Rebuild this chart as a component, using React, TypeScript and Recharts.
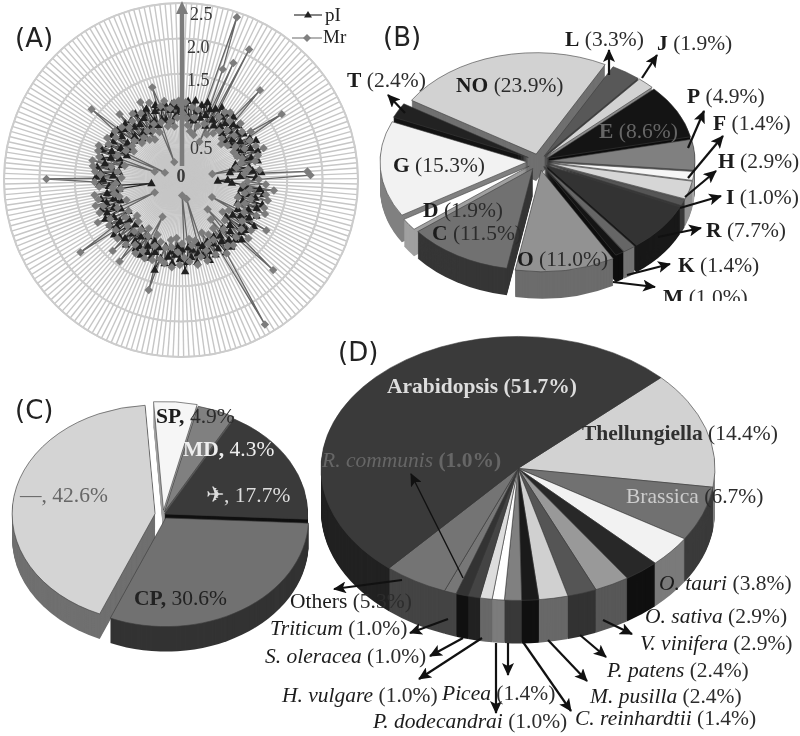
import React from "react";
import {
  Pie,
  PieChart,
  PolarAngleAxis,
  PolarGrid,
  PolarRadiusAxis,
  Radar,
  RadarChart,
  Sector,
} from "recharts";

const SERIF = "'Liberation Serif', serif";
const SANS = "'DejaVu Sans', sans-serif";

// panel A: one value per protein, clockwise from the top
const pIValues = [
  1.02, 1.08, 0.94, 1.12, 0.88, 1.04, 1.14, 0.86, 1.0, 1.1,
  0.92, 1.16, 0.98, 1.08, 0.84, 1.12, 0.96, 1.18, 0.9, 1.06,
  1.14, 0.94, 1.02, 1.16, 0.88, 1.08, 0.98, 1.12, 0.84, 1.04,
  0.92, 1.1, 0.86, 1.0, 1.14, 0.9, 1.2, 0.96, 1.08, 0.88,
  1.16, 0.94, 1.04, 0.8, 1.12, 0.76, 0.98, 0.7, 1.02, 1.14,
  0.84, 1.06, 0.66, 0.52, 0.72, 0.92, 1.12, 0.86, 1.18, 0.96,
  1.08, 0.84, 1.2, 0.92, 1.14, 0.86, 1.04, 1.18, 0.9, 1.1,
  0.98, 1.22, 0.88, 1.06, 1.16, 0.82, 1.12, 0.94, 1.2, 1.0,
  1.14, 0.9, 1.08, 1.18, 0.96, 1.04, 1.2, 0.92, 1.1, 1.0,
  1.16, 0.94, 1.08, 1.2, 0.98, 1.12, 0.92, 1.06, 1.18, 1.0,
  1.1, 0.96, 1.16, 1.29, 0.98, 1.12, 0.94, 1.06, 1.18, 1.02,
  1.1, 1.2, 0.96, 1.14, 1.32, 1.0, 1.08, 1.18, 0.94, 1.12,
  1.04, 1.2, 0.92, 1.1, 1.16, 0.98, 1.08, 0.88, 1.2, 1.02,
  1.14, 0.9, 1.18, 1.0, 1.22, 0.92, 1.12, 1.04, 1.18, 0.86,
  1.08, 1.2, 0.94, 1.14, 1.02, 1.2, 0.9, 1.1, 0.98, 1.16,
  0.92, 1.06, 0.88, 0.42, 1.02, 1.16, 0.9, 1.1, 1.2, 0.96,
  1.14, 0.88, 1.2, 1.0, 1.1, 0.86, 1.16, 1.04, 0.92, 1.2,
  1.06, 0.84, 1.14, 0.96, 1.1, 0.82, 1.16, 0.92, 1.04, 1.14,
  0.86, 1.08, 0.9, 1.12, 0.8, 1.0, 1.1, 0.86, 0.98, 1.14,
  0.82, 1.02, 1.08, 0.88, 1.12, 0.92, 0.84, 1.04, 1.12, 0.9,
  1.06, 0.88, 1.1, 0.84, 1.0, 1.08, 0.9, 1.04, 0.96,
];

const mrValues = [
  1.06, 0.94, 1.1, 0.88, 0.78, 1.04, 0.7, 0.9, 1.02, 0.66,
  0.8, 2.43, 1.67, 0.86, 1.81, 0.6, 2.08, 0.74, 1.04, 1.14,
  0.8, 1.18, 0.88, 1.08, 1.69, 0.96, 0.82, 1.16, 0.76, 0.98,
  1.1, 0.82, 1.2, 1.7, 0.9, 1.12, 0.84, 1.0, 1.16, 0.86,
  1.25, 0.92, 1.14, 0.88, 1.08, 0.8, 0.45, 0.96, 1.12, 0.9,
  1.79, 1.83, 1.1, 0.94, 1.2, 0.88, 1.32, 0.98, 1.22, 0.92,
  1.26, 1.02, 0.84, 1.24, 0.96, 1.28, 0.88, 1.18, 1.0, 0.5,
  1.4, 0.8, 1.04, 1.22, 0.74, 1.1, 1.26, 0.84, 1.82, 1.12,
  0.56, 0.92, 1.18, 0.7, 1.14, 0.82, 1.22, 2.36, 0.96, 0.86,
  1.16, 0.98, 0.8, 1.06, 1.2, 0.28, 1.12, 0.88, 1.22, 0.94,
  0.84, 1.16, 0.22, 1.1, 0.9, 1.2, 1.02, 0.82, 1.24, 0.96,
  0.86, 1.2, 0.98, 1.16, 1.62, 0.92, 1.2, 1.0, 0.84, 1.22,
  0.58, 1.14, 0.92, 1.22, 0.82, 1.12, 1.44, 0.9, 1.2, 0.98,
  1.39, 0.84, 1.22, 1.0, 0.8, 1.16, 1.75, 0.94, 1.2, 0.86,
  1.14, 1.32, 0.41, 0.98, 1.24, 0.82, 1.16, 1.26, 0.9, 1.2,
  0.96, 1.24, 0.86, 0.98, 1.16, 0.92, 1.22, 1.9, 0.84, 1.14,
  1.22, 0.9, 1.26, 1.0, 1.28, 0.82, 1.2, 0.39, 1.24, 0.96,
  1.26, 0.25, 1.14, 0.88, 1.2, 0.78, 1.1, 0.84, 1.16, 1.61,
  0.86, 1.12, 0.76, 1.04, 1.27, 0.8, 1.08, 0.72, 1.16, 0.84,
  0.68, 1.1, 0.8, 1.24, 0.88, 0.74, 1.18, 0.27, 0.86, 1.37,
  1.08, 0.78, 1.14, 0.84, 1.02, 0.76, 1.1, 0.88, 1.12,
];

const radarData = pIValues.map((pI, i) => ({ id: i, pI, Mr: mrValues[i] }));

// panel B
const bNames = ["L", "J", "E", "P", "F", "H", "I", "R", "K", "M", "O", "C", "D", "G", "T", "NO"];
const bValues = [3.3, 1.9, 8.6, 4.9, 1.4, 2.9, 1.0, 7.7, 1.4, 1.0, 11.0, 11.5, 1.9, 15.3, 2.4, 23.9];
const bTop = ["#585858", "#d2d2d2", "#141414", "#808080", "#f6f6f6", "#d6d6d6", "#555555", "#333333", "#666666", "#141414", "#929292", "#717171", "#ffffff", "#f2f2f2", "#222222", "#d2d2d2"];
const bWall = ["#3c3c3c", "#8c8c8c", "#0c0c0c", "#585858", "#a8a8a8", "#909090", "#383838", "#181818", "#747474", "#0e0e0e", "#6c6c6c", "#363636", "#a0a0a0", "#808080", "#141414", "#707070"];
const bExplode = [9, 9, 9, 9, 9, 9, 9, 9, 9, 9, 13, 12, 12, 12, 12, 11];

// panel C
const cNames = ["SP", "MD", "\u2708", "CP", "\u2014"];
const cValues = [4.9, 4.3, 17.7, 30.6, 42.6];
const cTop = ["#f6f6f6", "#808080", "#3a3a3a", "#717171", "#d4d4d4"];
const cWall = ["#a0a0a0", "#5a5a5a", "#101010", "#333333", "#707070"];
const cExplode = [6, 4, 2, 5, 8];

// panel D
const dNames = ["Thellungiella", "Brassica", "O. tauri", "O. sativa", "V. vinifera", "P. patens", "M. pusilla", "C. reinhardtii", "Picea", "P. dodecandrai", "H. vulgare", "S. oleracea", "Triticum", "R. communis", "Others", "Arabidopsis"];
const dValues = [14.4, 6.7, 3.8, 2.9, 2.9, 2.4, 2.4, 1.4, 1.4, 1.0, 1.0, 1.0, 1.0, 1.0, 5.3, 51.7];
const dTop = ["#d2d2d2", "#717171", "#f2f2f2", "#282828", "#999999", "#555555", "#d0d0d0", "#1a1a1a", "#808080", "#ffffff", "#dddddd", "#444444", "#333333", "#777777", "#747474", "#3a3a3a"];
const dWall = ["#808080", "#3a3a3a", "#7a7a7a", "#101010", "#585858", "#333333", "#686868", "#101010", "#383838", "#7c7c7c", "#686868", "#222222", "#111111", "#444444", "#444444", "#222222"];

const radiusLabelShift: Record<string, [number, number]> = {
  "0": [0, 2],
  "0.5": [9, 9],
  "1.0": [8, 6],
  "1.5": [6, 12],
  "2.0": [6, 15],
  "2.5": [9, 17],
};

const RadiusTick = (props: any) => {
  const text = props.payload.value === 0 ? "0" : Number(props.payload.value).toFixed(1);
  const [dx, dy] = radiusLabelShift[text] ?? [0, 0];
  return (
    <text
      x={props.x + dx}
      y={props.y + dy}
      textAnchor={text === "0" ? "middle" : "start"}
      fontFamily={SERIF}
      fontSize={18}
      fontWeight={text === "0" ? "bold" : "normal"}
      fill="#3a3a3a"
    >
      {text}
    </text>
  );
};

const TriangleDot = (props: any) => (
  <path key={props.key} d={`M${props.cx} ${props.cy - 4.5}l4.2 7.5h-8.4z`} fill="#202020" />
);

const DiamondDot = (props: any) => (
  <path key={props.key} d={`M${props.cx} ${props.cy - 4.2}l4.2 4.2l-4.2 4.2l-4.2 -4.2z`} fill="#7c7c7c" />
);

const ExplodedSector = (props: any) => {
  const rad = (props.midAngle * Math.PI) / 180;
  const push = props.payload?.explode ?? props.explode ?? 0;
  return <Sector {...props} cx={props.cx + push * Math.cos(rad)} cy={props.cy - push * Math.sin(rad)} />;
};

interface Pie3DProps {
  names: string[];
  values: number[];
  top: string[];
  wall: string[];
  explode?: number[];
  centerX: number;
  centerY: number;
  radius: number;
  squash: number;
  depth: number;
  firstAngle: number; // degrees clockwise from north
}

function Pie3D({ names, values, top, wall, explode, centerX, centerY, radius, squash, depth, firstAngle }: Pie3DProps) {
  const pad = 24;
  const width = radius * 2 + pad * 2;
  const height = radius * 2 + pad * 2 + depth / squash;
  const cx = radius + pad;
  const cy = radius + pad;
  const rows = (fills: string[]) =>
    names.map((name, i) => ({ name, value: values[i], fill: fills[i], explode: explode ? explode[i] : 0 }));
  const wallRows = rows(wall);
  const topRows = rows(top);
  const layers: number[] = [];
  for (let d = depth; d > 0; d--) layers.push(d);
  const startAngle = 90 - firstAngle;
  return (
    <div
      style={{
        position: "absolute",
        left: centerX - cx,
        top: centerY - cy * squash,
        transform: `scaleY(${squash})`,
        transformOrigin: "0 0",
      }}
    >
      <PieChart width={width} height={height}>
        {layers.map((d) => (
          <Pie
            key={d}
            data={wallRows}
            dataKey="value"
            cx={cx}
            cy={cy + d / squash}
            outerRadius={radius}
            startAngle={startAngle}
            endAngle={startAngle - 360}
            stroke="none"
            shape={ExplodedSector}
            isAnimationActive={false}
          />
        ))}
        <Pie
          data={topRows}
          dataKey="value"
          cx={cx}
          cy={cy}
          outerRadius={radius}
          startAngle={startAngle}
          endAngle={startAngle - 360}
          stroke="#3c3c3c"
          strokeWidth={0.7}
          shape={ExplodedSector}
          isAnimationActive={false}
        />
      </PieChart>
    </div>
  );
}

interface Note {
  name: string;
  x: number;
  y: number;
  head?: "bold" | "italic" | "normal";
  headFill?: string;
  restFill?: string;
  boldRest?: boolean;
}

const pct = (names: string[], values: number[], name: string) => values[names.indexOf(name)].toFixed(1);

const bNotes: Note[] = [
  { name: "L", x: 565, y: 46 },
  { name: "J", x: 657, y: 50 },
  { name: "T", x: 347, y: 87 },
  { name: "NO", x: 456, y: 92 },
  { name: "E", x: 599, y: 138, headFill: "#666666", restFill: "#666666" },
  { name: "P", x: 687, y: 103 },
  { name: "F", x: 713, y: 130 },
  { name: "H", x: 718, y: 168 },
  { name: "I", x: 726, y: 204 },
  { name: "R", x: 706, y: 237 },
  { name: "K", x: 678, y: 272 },
  { name: "G", x: 393, y: 172 },
  { name: "D", x: 423, y: 217 },
  { name: "C", x: 432, y: 240 },
  { name: "O", x: 517, y: 266 },
];

const dNotes: Note[] = [
  { name: "Arabidopsis", x: 387, y: 393, head: "bold", headFill: "#dddddd", restFill: "#dddddd", boldRest: true },
  { name: "Thellungiella", x: 582, y: 440, head: "bold", headFill: "#303030" },
  { name: "Brassica", x: 626, y: 503, head: "normal", headFill: "#cccccc" },
  { name: "R. communis", x: 322, y: 467, head: "italic", headFill: "#666666", restFill: "#666666", boldRest: true },
  { name: "O. tauri", x: 659, y: 590, head: "italic" },
  { name: "O. sativa", x: 645, y: 623, head: "italic" },
  { name: "V. vinifera", x: 640, y: 650, head: "italic" },
  { name: "P. patens", x: 607, y: 677, head: "italic" },
  { name: "M. pusilla", x: 590, y: 703, head: "italic" },
  { name: "C. reinhardtii", x: 575, y: 725, head: "italic" },
  { name: "P. dodecandrai", x: 373, y: 728, head: "italic" },
  { name: "Picea", x: 442, y: 700, head: "italic" },
  { name: "H. vulgare", x: 282, y: 702, head: "italic" },
  { name: "S. oleracea", x: 265, y: 663, head: "italic" },
  { name: "Triticum", x: 270, y: 635, head: "italic" },
  { name: "Others", x: 290, y: 608, head: "normal" },
];

const cNotes: Note[] = [
  { name: "SP", x: 156, y: 423, head: "bold" },
  { name: "MD", x: 183, y: 456, head: "bold", headFill: "#eeeeee", restFill: "#eeeeee" },
  { name: "\u2708", x: 206, y: 502, head: "normal", headFill: "#dddddd", restFill: "#dddddd" },
  { name: "CP", x: 134, y: 605, head: "bold", headFill: "#222222", restFill: "#222222" },
  { name: "\u2014", x: 20, y: 502, head: "normal", headFill: "#666666", restFill: "#666666" },
];

// [x1, y1, x2, y2] leader lines from a slice to its label
const arrows: number[][] = [
  [609, 75, 609, 50], [642, 78, 657, 55], [405, 113, 388, 95], [688, 148, 704, 111],
  [688, 178, 723, 136], [685, 197, 716, 171], [680, 208, 721, 196], [658, 237, 701, 228],
  [627, 275, 670, 264], [613, 282, 655, 287],
  [402, 580, 334, 589], [448, 619, 410, 633], [463, 638, 430, 656], [482, 638, 419, 679],
  [496, 643, 496, 713], [508, 643, 508, 675], [523, 642, 571, 711], [548, 640, 587, 681],
  [580, 635, 606, 657], [603, 620, 632, 634],
];

const NoteText = ({ note, text, sep }: { note: Note; text: string; sep: "paren" | "comma" }) => {
  const head = note.head ?? "bold";
  const comma = sep === "comma";
  return (
    <text x={note.x} y={note.y} fontFamily={SERIF} fontSize={21.5}>
      <tspan
        fontWeight={head === "bold" ? "bold" : "normal"}
        fontStyle={head === "italic" ? "italic" : "normal"}
        fill={note.headFill ?? "#1c1c1c"}
      >
        {comma ? `${note.name},` : note.name}
      </tspan>
      <tspan fontWeight={note.boldRest ? "bold" : "normal"} fill={note.restFill ?? "#2c2c2c"}>
        {comma ? ` ${text}%` : ` (${text}%)`}
      </tspan>
    </text>
  );
};

const PanelLetter = ({ x, y, text }: { x: number; y: number; text: string }) => (
  <text x={x} y={y} fontFamily={SANS} fontSize={26} fill="#222222">
    {text}
  </text>
);

export default function App() {
  return (
    <div style={{ position: "absolute", left: 0, top: 0, width: 800, height: 736, background: "#fff", overflow: "hidden", filter: "blur(0.4px)" }}>
      <div style={{ position: "absolute", left: 0, top: 0 }}>
        <RadarChart width={370} height={366} data={radarData} cx={181} cy={180} outerRadius={177} margin={{ top: 0, right: 0, bottom: 0, left: 0 }}>
          <PolarGrid gridType="circle" stroke="#c6c6c6" strokeWidth={1.4} />
          <PolarGrid gridType="circle" radialLines={false} stroke="#cccccc" strokeWidth={2} />
          <PolarAngleAxis dataKey="id" tick={false} tickLine={false} axisLine={false} />
          <Radar dataKey="pI" stroke="#2a2a2a" strokeWidth={1.2} fill="none" dot={TriangleDot} isAnimationActive={false} />
          <Radar dataKey="Mr" stroke="#666666" strokeWidth={1.3} fill="none" dot={DiamondDot} isAnimationActive={false} />
          <PolarRadiusAxis angle={90} type="number" domain={[0, 2.5]} allowDecimals tickCount={6} axisLine={false} tickLine={false} tick={RadiusTick} />
        </RadarChart>
      </div>

      <Pie3D names={bNames} values={bValues} top={bTop} wall={bWall} explode={bExplode} centerX={534} centerY={158} radius={147} squash={0.69} depth={27} firstAngle={28} />
      <Pie3D names={cNames} values={cValues} top={cTop} wall={cWall} explode={cExplode} centerX={158} centerY={511} radius={143} squash={0.76} depth={25} firstAngle={-4} />
      <Pie3D names={dNames} values={dValues} top={dTop} wall={dWall} centerX={513} centerY={465} radius={197} squash={0.67} depth={43} firstAngle={46.5} />

      <svg width={800} height={736} style={{ position: "absolute", left: 0, top: 0, pointerEvents: "none" }}>
        <defs>
          <marker id="head" markerUnits="userSpaceOnUse" markerWidth={14} markerHeight={12} refX={12} refY={6} orient="auto">
            <path d="M0 0L13 6L0 12L3 6z" fill="#111111" />
          </marker>
          <clipPath id="cutM">
            <rect x={640} y={270} width={160} height={31} />
          </clipPath>
        </defs>

        {/* axis arrow of panel A */}
        <line x1={182} y1={166} x2={182} y2={12} stroke="#7c7c7c" strokeWidth={4.5} />
        <path d="M182 1L188 14H176z" fill="#7c7c7c" />

        {/* legend of panel A */}
        <line x1={294} y1={15} x2={322} y2={15} stroke="#333333" strokeWidth={1.2} />
        <path d="M308 11l4 6.5h-8z" fill="#222222" />
        <text x={325} y={21} fontFamily={SERIF} fontSize={19} fill="#222222">pI</text>
        <line x1={292} y1={38} x2={322} y2={38} stroke="#808080" strokeWidth={1.2} />
        <path d="M307 34l4 4l-4 4l-4 -4z" fill="#808080" />
        <text x={323} y={43} fontFamily={SERIF} fontSize={19} fill="#222222">Mr</text>

        <PanelLetter x={15} y={47} text="(A)" />
        <PanelLetter x={383} y={46} text="(B)" />
        <PanelLetter x={15} y={419} text="(C)" />
        <PanelLetter x={338} y={361} text="(D)" />

        {arrows.map(([x1, y1, x2, y2], i) => (
          <line key={i} x1={x1} y1={y1} x2={x2} y2={y2} stroke="#111111" strokeWidth={2.2} markerEnd="url(#head)" />
        ))}
        <line x1={463} y1={578} x2={411} y2={474} stroke="#111111" strokeWidth={1.4} markerEnd="url(#head)" />

        {bNotes.map((n) => (
          <NoteText key={n.name} note={n} text={pct(bNames, bValues, n.name)} sep="paren" />
        ))}
        <g clipPath="url(#cutM)">
          <NoteText note={{ name: "M", x: 663, y: 304 }} text={pct(bNames, bValues, "M")} sep="paren" />
        </g>
        {cNotes.map((n) => (
          <NoteText key={n.name} note={n} text={pct(cNames, cValues, n.name)} sep="comma" />
        ))}
        {dNotes.map((n) => (
          <NoteText key={n.name} note={n} text={pct(dNames, dValues, n.name)} sep="paren" />
        ))}
      </svg>
    </div>
  );
}
